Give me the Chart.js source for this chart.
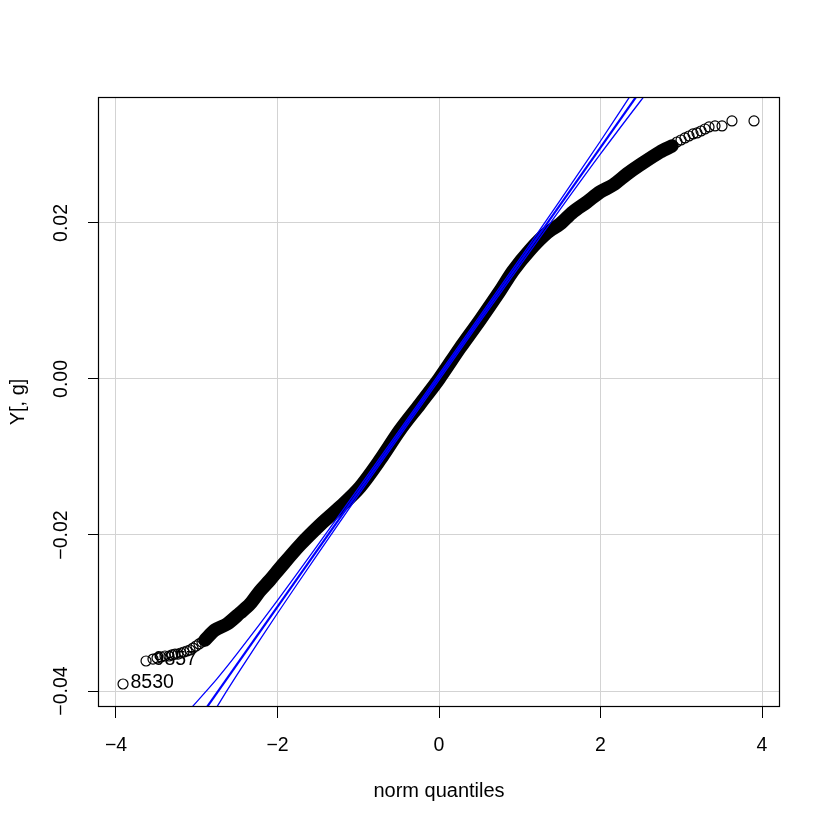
<!DOCTYPE html>
<html>
<head>
<meta charset="utf-8">
<title>QQ plot</title>
<script src="https://cdn.jsdelivr.net/npm/chart.js@4.4.1/dist/chart.umd.min.js"></script>
<style>
  body { margin: 0; background: #fff; }
  canvas { display: block; }
</style>
</head>
<body>
<canvas id="myChart" width="830" height="830"></canvas>
<script>
// values
const xTicks = [-4, -2, 0, 2, 4];
const yTicks = [-0.04, -0.02, 0, 0.02];

// dense middle of the sample, the points overlap into one black band
const bandX = [-2.898, -2.774, -2.625, -2.464, -2.341, -2.217, -2.093, -1.969, -1.721, -1.474,
    -1.226, -0.978, -0.731, -0.483, -0.235, 0, 0.260, 0.508, 0.755, 0.916,
    1.127, 1.337, 1.498, 1.659, 1.833, 1.994, 2.155, 2.328, 2.489, 2.737, 2.885];
const bandY = [-0.03346, -0.03218, -0.03141, -0.03000, -0.02885, -0.02718, -0.02577, -0.02423, -0.02128, -0.01872,
    -0.01641, -0.01385, -0.01038, -0.00654, -0.00321, 0, 0.00397, 0.00756, 0.01128, 0.01385,
    0.01654, 0.01872, 0.01987, 0.02141, 0.02269, 0.02397, 0.02487, 0.02628, 0.02744, 0.02910, 0.02987];

// the tails, where single circles can still be seen
const tailX = [-3.913, -3.628, -3.542, -3.492, -3.443, -3.393, -3.344, -3.307, -3.269, -3.232,
    -3.195, -3.158, -3.121, -3.084, -3.046, -3.009, -2.972, -2.935,
    2.947, 2.997, 3.046, 3.096, 3.146, 3.195, 3.245, 3.294, 3.344, 3.418, 3.505, 3.628, 3.901];
const tailY = [-0.03910, -0.03615, -0.03590, -0.03577, -0.03564, -0.03551, -0.03551, -0.03538, -0.03526, -0.03526,
    -0.03513, -0.03500, -0.03487, -0.03474, -0.03449, -0.03423, -0.03397, -0.03372,
    0.03038, 0.03064, 0.03090, 0.03115, 0.03141, 0.03154, 0.03179, 0.03205, 0.03231, 0.03244, 0.03244, 0.03308, 0.03308];

// identified points
const labelIds = ['8530', '9857'];
const labelX = [-3.913, -3.628];
const labelY = [-0.03910, -0.03615];

// reference line
const refX = [-3.1, 2.65];
const refY = [-0.04539, 0.03924];

// confidence envelope
const envX = [-3.1, -2.75, -2.5, -2.0, -1.5, -1.0, -0.5, 0, 0.5, 1.0, 1.5, 2.0, 2.5, 2.65];
const envUpper = [-0.04254, -0.03844, -0.03522, -0.02837, -0.02126, -0.01403, -0.00673, 0.00062,
    0.00799, 0.01541, 0.02290, 0.03051, 0.03838, 0.04084];
const envLower = [-0.04824, -0.04204, -0.03790, -0.03003, -0.02242, -0.01493, -0.00751, -0.00014,
    0.00721, 0.01451, 0.02174, 0.02885, 0.03570, 0.03764];

const xMin = -4.2105, xMax = 4.2105;
const yMin = -0.04205, yMax = 0.03615;

function toPoints(xs, ys) {
    return xs.map((x, i) => ({ x: x, y: ys[i] }));
}

function minus(text) {
    return String(text).replace('-', '\u2212');
}

Chart.defaults.font.family = '"Liberation Sans", Arial, sans-serif';
Chart.defaults.font.size = 19.5;
Chart.defaults.color = '#000';

// R style box round the plot region
const boxPlugin = {
    id: 'box',
    afterDraw(chart) {
        const { ctx, chartArea: a } = chart;
        ctx.save();
        ctx.strokeStyle = '#000';
        ctx.lineWidth = 1.2;
        ctx.strokeRect(Math.round(a.left) - 0.5, Math.round(a.top) + 0.5,
            Math.round(a.right - a.left) + 1, Math.round(a.bottom - a.top) - 1);
        ctx.restore();
    }
};

// labels of the identified points
const idPlugin = {
    id: 'ids',
    afterDatasetsDraw(chart) {
        const { ctx, scales } = chart;
        ctx.save();
        ctx.font = '19.5px "Liberation Sans", Arial, sans-serif';
        ctx.fillStyle = '#000';
        ctx.textAlign = 'left';
        ctx.textBaseline = 'middle';
        for (let i = 0; i < labelIds.length; i++) {
            const px = scales.x.getPixelForValue(labelX[i]);
            const py = scales.y.getPixelForValue(labelY[i]);
            ctx.fillText(labelIds[i], px + 7.5, py - 1);
        }
        ctx.restore();
    }
};

const lineStyle = {
    showLine: true,
    pointRadius: 0,
    fill: false,
    tension: 0.3,
    clip: 0,
};

const datasets = [
    Object.assign({ label: 'line', data: toPoints(refX, refY), borderColor: '#0000ff', borderWidth: 2.2 }, lineStyle),
    Object.assign({ label: 'upper', data: toPoints(envX, envUpper), borderColor: '#0000ff', borderWidth: 1.3 }, lineStyle),
    Object.assign({ label: 'lower', data: toPoints(envX, envLower), borderColor: '#0000ff', borderWidth: 1.3 }, lineStyle),
    {
        label: 'tails',
        data: toPoints(tailX, tailY),
        showLine: false,
        pointStyle: 'circle',
        pointRadius: 5,
        borderWidth: 1.2,
        borderColor: '#000',
        backgroundColor: 'rgba(0,0,0,0)',
        clip: 0,
    },
    Object.assign({
        label: 'band',
        data: toPoints(bandX, bandY),
        borderColor: '#000',
        borderWidth: 13.5,
        borderCapStyle: 'round',
        borderJoinStyle: 'round',
    }, lineStyle),
];

const ctx = document.getElementById('myChart').getContext('2d');

const config = {
    type: 'scatter',
    data: { datasets: datasets },
    options: {
        responsive: false,
        animation: false,
        events: [],
        layout: { padding: { left: 0, right: 51, top: 97, bottom: 0 } },
        plugins: {
            legend: { display: false },
            tooltip: { enabled: false },
        },
        scales: {
            x: {
                type: 'linear',
                position: 'bottom',
                min: xMin,
                max: xMax,
                afterBuildTicks: axis => { axis.ticks = xTicks.map(v => ({ value: v })); },
                afterFit: axis => { axis.height = 123; },
                grid: { color: '#d3d3d3', tickColor: '#000', tickLength: 11, lineWidth: 1 },
                border: { display: false },
                ticks: {
                    autoSkip: false,
                    maxRotation: 0,
                    padding: 16,
                    callback: value => minus(value),
                },
                title: {
                    display: true,
                    text: 'norm quantiles',
                    font: { size: 20 },
                    padding: { top: 0, bottom: 27 },
                },
            },
            y: {
                type: 'linear',
                position: 'left',
                min: yMin,
                max: yMax,
                afterBuildTicks: axis => { axis.ticks = yTicks.map(v => ({ value: v })); },
                afterFit: axis => { axis.width = 99; },
                grid: { color: '#d3d3d3', tickColor: '#000', tickLength: 11, lineWidth: 1 },
                border: { display: false },
                ticks: {
                    autoSkip: false,
                    minRotation: 90,
                    maxRotation: 90,
                    crossAlign: 'center',
                    padding: 2,
                    callback: value => minus(value.toFixed(2)),
                },
                title: {
                    display: true,
                    text: 'Y[, g]',
                    font: { size: 20 },
                    padding: { top: 6, bottom: 0 },
                },
            },
        },
    },
    plugins: [boxPlugin, idPlugin],
};

const chart = new Chart(ctx, config);
</script>
</body>
</html>
